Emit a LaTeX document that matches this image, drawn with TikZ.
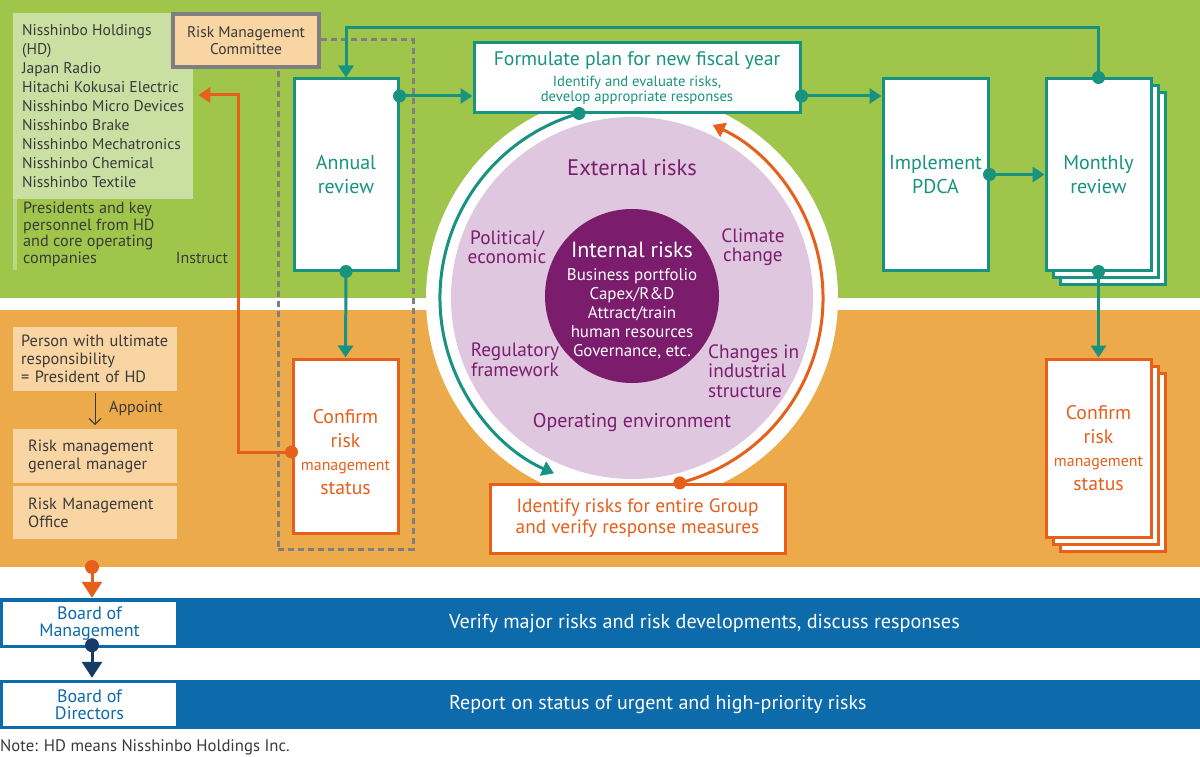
\documentclass[tikz,border=0pt]{standalone}
\usepackage{fontspec}
\setmainfont{PT Sans}
\usetikzlibrary{arrows.meta,calc}
\definecolor{bandgreen}{HTML}{A0C54B}
\definecolor{lightgreen}{HTML}{C9E0A2}
\definecolor{stripgreen}{HTML}{BBD88A}
\definecolor{bandorange}{HTML}{ECAA4B}
\definecolor{lightorange}{HTML}{F8D5A2}
\definecolor{tealc}{HTML}{17937F}
\definecolor{orangec}{HTML}{E65F1B}
\definecolor{lavender}{HTML}{DFC7E0}
\definecolor{plum}{HTML}{7B1C6D}
\definecolor{bandblue}{HTML}{0D6BAB}
\definecolor{navyc}{HTML}{183B66}
\definecolor{dashgray}{HTML}{7F7F7F}
\definecolor{txt}{HTML}{3A3A3A}
\newcommand{\myfs}[2]{\fontsize{#1}{#2}\selectfont}
\begin{document}
\begin{tikzpicture}[x=1pt,y=-1pt,
  tbox/.style={draw=tealc, line width=3pt, fill=white, text=tealc, align=center, inner sep=0pt},
  obox/.style={draw=orangec, line width=3pt, fill=white, text=orangec, align=center, inner sep=0pt},
  tline/.style={draw=tealc, line width=3pt},
  oline/.style={draw=orangec, line width=3pt},
  nline/.style={draw=navyc, line width=3pt},
  headA/.style={-{Triangle[width=15pt,length=12pt]}},
  headB/.style={-{Triangle[width=20pt,length=16pt]}},
  sidebox/.style={fill=lightorange, anchor=north west, inner ysep=0pt, align=left, text=txt, font=\myfs{16.3}{18}},
  circtext/.style={text=plum, font=\myfs{19.3}{19.5}, align=center},
  boardbox/.style={fill=white, minimum width=173pt, minimum height=43pt, inner sep=0pt, align=center, text=bandblue, font=\myfs{18}{17}}
]
\useasboundingbox (0,0) rectangle (1200,757);
\fill[white] (0,0) rectangle (1200,757);
\fill[bandgreen] (0,0) rectangle (1200,298);
\fill[bandorange] (0,310) rectangle (1200,567);

% ---- left green panel
\node[fill=lightgreen, anchor=north west, minimum width=180pt, inner xsep=0pt, inner ysep=0pt,
      minimum height=186pt, align=left, text=txt, font=\myfs{15.6}{19}] (companies) at (13,13)
  {Nisshinbo Holdings\\(HD)\\Japan Radio\\Hitachi Kokusai Electric\\Nisshinbo Micro Devices\\Nisshinbo Brake\\Nisshinbo Mechatronics\\Nisshinbo Chemical\\Nisshinbo Textile};
\fill[stripgreen] (companies.south west) rectangle ++(3.5,71);
\node[anchor=west, align=left, text=txt, font=\myfs{16.2}{16.5}, inner sep=0pt] (members) at (23,234.5)
  {Presidents and key\\personnel from HD\\and core operating\\companies};
\node[text=txt, font=\myfs{16}{18}, inner sep=0pt] (instruct) at (202,258) {Instruct};

% ---- left orange panel
\node[sidebox, inner xsep=8pt, text width=148pt, minimum height=64pt] (ultimate) at (13,327)
  {Person with ultimate\\responsibility\\= President of HD};
\node[sidebox, inner xsep=15pt, text width=134pt, minimum height=54pt] (gm) at (13,429)
  {Risk management\\general manager};
\node[sidebox, inner xsep=15pt, text width=134pt, minimum height=53pt] (office) at (13,486)
  {Risk Management\\Office};
\coordinate (apx) at (95,0);
\draw[txt, line width=1pt, -{Straight Barb[length=6pt,width=12pt]}, shorten <=2pt, shorten >=4pt]
  (ultimate.south -| apx) -- (gm.north -| apx);
\node[anchor=west, text=txt, font=\myfs{16}{18}, inner sep=0pt] (appoint) at (109,408) {Appoint};

% ---- circle
\coordinate (C) at (632,298);
\fill[white] (C) circle[radius=206pt];
\fill[lavender] (C) circle[radius=181pt];
\node[circle, fill=plum, minimum size=174pt, inner sep=0pt] (internal) at (632,296) {};
\node[text=plum, font=\myfs{22.5}{24}] (external) at (632,168) {External risks};
\node[circtext] (political) at (507,247) {Political/\\economic};
\node[circtext] (climate) at (753,247) {Climate\\change};
\node[circtext] (regulatory) at (515,360) {Regulatory\\framework};
\node[circtext, align=left, anchor=west, inner sep=0pt] (industrial) at (708,371) {Changes in\\industrial\\structure};
\node[circtext, font=\myfs{19.9}{22}] (operating) at (632,423) {Operating environment};
\node[text=white, font=\myfs{22}{24}] (inttitle) at (632,250) {Internal risks};
\node[text=white, font=\myfs{16.9}{19}, align=center] (intitems) at (632,314)
  {Business portfolio\\Capex/R\&D\\Attract/train\\human resources\\Governance, etc.};

% ---- dashed group and committee
\node[draw=dashgray, line width=3pt, dash pattern=on 6pt off 4pt, minimum width=135pt,
      minimum height=509pt, inner sep=0pt] (group) at (345.5,294.5) {};
\node[fill=lightorange, draw=dashgray, line width=4pt, minimum width=146pt, minimum height=53pt,
      inner sep=0pt, align=center, text=txt, font=\myfs{15.5}{17}] (rmc) at (246,40.5) {Risk Management\\Committee};

% ---- process boxes
\node[tbox, minimum width=104pt, minimum height=191pt, font=\myfs{20}{24}] (annual) at (346,174.5) {Annual\\review};
\node[tbox, minimum width=326pt, minimum height=70pt, font=\myfs{14.7}{14.5}] (formulate) at (637,78)
  {{\myfs{19.7}{20}Formulate plan for new fiscal year}\\[6.5pt]Identify and evaluate risks,\\develop appropriate responses};
\node[tbox, minimum width=105pt, minimum height=191pt, font=\myfs{20}{24}] (implement) at (935.5,174.5) {Implement\\PDCA};
\node[tbox, minimum width=105pt, minimum height=191pt] (monthly3) at (1112.5,188.5) {};
\node[tbox, minimum width=105pt, minimum height=191pt] (monthly2) at (1105.5,181.5) {};
\node[tbox, minimum width=105pt, minimum height=191pt, font=\myfs{20}{24}] (monthly) at (1098.5,174.5) {Monthly\\review};
\node[obox, minimum width=105pt, minimum height=174pt, font=\myfs{19.7}{23.5}] (confirmL) at (345.5,446)
  {\rule{0pt}{26pt}Confirm\\risk\\{\myfs{15.9}{23.5}management}\\status};
\node[obox, minimum width=105pt, minimum height=178pt] (confirmR3) at (1112.5,462) {};
\node[obox, minimum width=105pt, minimum height=178pt] (confirmR2) at (1105.5,455) {};
\node[obox, minimum width=105pt, minimum height=178pt, font=\myfs{19.7}{23.5}] (confirmR) at (1098.5,448)
  {Confirm\\risk\\{\myfs{15.9}{23.5}management}\\status};
\node[obox, minimum width=295pt, minimum height=69pt, font=\myfs{19.3}{21}] (identify) at (637.5,518.5)
  {Identify risks for entire Group\\and verify response measures};

% ---- arcs around circle
\coordinate (ts) at ($(C)+(106:192pt)$);
\draw[tline, headA] (ts) arc[start angle=106, end angle=246, radius=192pt];
\fill[tealc] (ts) circle[radius=6.5pt];
\coordinate (os) at ($(C)+(-75.5:191pt)$);
\draw[oline, headA] (os) arc[start angle=-75.5, end angle=65, radius=191pt];
\fill[orangec] (os) circle[radius=6.5pt];

% ---- teal connectors
\coordinate (flowy) at (0,96);
\draw[tline, headA] (annual.east |- flowy) -- (formulate.west |- flowy);
\fill[tealc] (annual.east |- flowy) circle[radius=6.5pt];
\draw[tline, headA] (formulate.east |- flowy) -- (implement.west |- flowy);
\fill[tealc] (formulate.east |- flowy) circle[radius=6.5pt];
\draw[tline, headA] (implement.east) -- (monthly.west);
\fill[tealc] (implement.east) circle[radius=6.5pt];
\coordinate (loopy) at (0,28);
\draw[tline, headA] (monthly.north) -- (monthly.north |- loopy) -| (annual.north);
\fill[tealc] (monthly.north) circle[radius=6.5pt];
\draw[tline, headA] (annual.south) -- (confirmL.north);
\fill[tealc] (annual.south) circle[radius=6.5pt];
\draw[tline, headA] (monthly.south) -- (confirmR.north);
\fill[tealc] (monthly.south) circle[radius=6.5pt];

% ---- instruct connector
\coordinate (instr) at (238,95);
\draw[oline, headA, shorten >=5pt] ([yshift=-6pt]confirmL.west) -| (instr) -- (companies.east |- instr);
\fill[orangec] ([yshift=-6pt]confirmL.west) circle[radius=6.5pt];

% ---- bottom bands
\fill[bandblue] (0,598) rectangle (1200,648);
\fill[bandblue] (0,680) rectangle (1200,729);
\node[boardbox] (bom) at (89.5,623.5) {Board of\\Management};
\node[boardbox] (bod) at (89.5,704.5) {Board of\\Directors};
\node[anchor=west, text=white, font=\myfs{20.2}{22}, inner sep=0pt] (verify) at (449,623)
  {Verify major risks and risk developments, discuss responses};
\node[anchor=west, text=white, font=\myfs{20}{22}, inner sep=0pt] (report) at (449,705)
  {Report on status of urgent and high-priority risks};
\coordinate (ob) at (92,567);
\draw[oline, headB, shorten >=4pt] (ob) -- (ob |- bom.north);
\fill[orangec] (ob) circle[radius=7pt];
\draw[nline, headB, shorten >=5pt] (bom.south -| ob) -- (bod.north -| ob);
\fill[navyc] (bom.south -| ob) circle[radius=7pt];
\node[anchor=west, text=txt, font=\myfs{16.7}{18}, inner sep=0pt] (note) at (0,747)
  {Note: HD means Nisshinbo Holdings Inc.};
\end{tikzpicture}
\end{document}
